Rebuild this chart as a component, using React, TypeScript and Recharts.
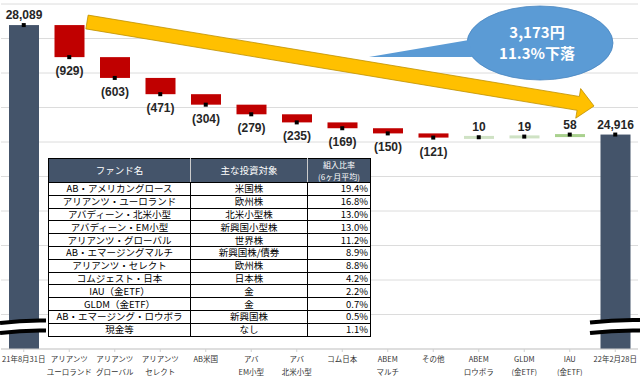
import { ComposedChart, Bar, Line, XAxis, YAxis, CartesianGrid, Cell, LabelList } from 'recharts'

const categories = [
  '21年8月31日',
  'アリアンツ\nユーロランド',
  'アリアンツ\nグローバル',
  'アリアンツ\nセレクト',
  'AB米国',
  'アバ\nEM小型',
  'アバ\n北米小型',
  'コム日本',
  'ABEM\nマルチ',
  'その他',
  'ABEM\nロウボラ',
  'GLDM\n(金ETF)',
  'IAU\n(金ETF)',
  '22年2月28日',
]
const changes = [28089, -929, -603, -471, -304, -279, -235, -169, -150, -121, 10, 19, 58, 24916]
const kinds = ['total', 'down', 'down', 'down', 'down', 'down', 'down', 'down', 'down', 'down', 'up', 'up', 'up', 'total']

const fundNames = [
  'AB・アメリカングロース',
  'アリアンツ・ユーロランド',
  'アバディーン・北米小型',
  'アバディーン・EM小型',
  'アリアンツ・グローバル',
  'AB・エマージングマルチ',
  'アリアンツ・セレクト',
  'コムジェスト・日本',
  'IAU（金ETF）',
  'GLDM（金ETF）',
  'AB・エマージング・ロウボラ',
  '現金等',
]
const targets = ['米国株', '欧州株', '北米小型株', '新興国小型株', '世界株', '新興国株/債券', '欧州株', '日本株', '金', '金', '新興国株', 'なし']
const ratios = ['19.4%', '16.8%', '13.0%', '13.0%', '11.2%', '8.9%', '8.8%', '4.2%', '2.2%', '0.7%', '0.5%', '1.1%']

const Y_DOMAIN = [18700, 28700]
const Y_TICKS = [18700, 19700, 20700, 21700, 22700, 23700, 24700, 25700, 26700, 27700, 28700]

const COLORS: Record<string, string> = { total: '#44546a', down: '#c00000', up: '#a9d18e' }

let run = 0
const data = categories.map((name, i) => {
  const v = changes[i]
  const kind = kinds[i]
  if (kind === 'total') {
    run = v
    return { name, kind, v, range: [Y_DOMAIN[0], v], end: v }
  }
  const start = run
  run += v
  return { name, kind, v, range: [Math.min(start, run), Math.max(start, run)], end: run }
})

const JP = '"Noto Sans CJK JP", "Noto Sans", sans-serif'
const NUM = '"Liberation Sans", Arial, sans-serif'

function XTick(props: any) {
  const { x, y, payload } = props
  const lines = String(payload.value).split('\n')
  return (
    <g transform={`translate(${x},${y})`}>
      {lines.map((l, i) => (
        <text key={i} x={0} y={8 + i * 13} textAnchor="middle" fontSize={7.5} fill="#333" fontFamily={JP}>
          {l}
        </text>
      ))}
    </g>
  )
}

function BarShape(props: any) {
  let { x, y, width, height, fill } = props
  if (height < 3) {
    y = y + height / 2 - 1.5
    height = 3
  }
  return <rect x={x} y={y} width={width} height={height} fill={fill} />
}

function BarLabel(props: any) {
  const { x, y, width, height, index } = props
  const d = data[index]
  if (!d) return null
  const cx = x + width / 2
  if (d.kind === 'down') {
    return (
      <text x={cx} y={y + height + 18} textAnchor="middle" fontSize={12} fontWeight="bold" fill="#262626" fontFamily={NUM}>
        ({Math.abs(d.v)})
      </text>
    )
  }
  return (
    <text x={cx} y={y - 6} textAnchor="middle" fontSize={12} fontWeight="bold" fill="#262626" fontFamily={NUM}>
      {d.v.toLocaleString('en-US')}
    </text>
  )
}

function SquareDot(props: any) {
  const { cx, cy } = props
  if (cx == null || cy == null) return null
  return <rect x={cx - 2} y={cy - 2} width={4} height={4} fill="#000" />
}

// 矢印（左上 → 右下）
function arrowPoints() {
  const S = [87, 22]
  const T = [594, 106]
  const dx = T[0] - S[0]
  const dy = T[1] - S[1]
  const len = Math.hypot(dx, dy)
  const u = [dx / len, dy / len]
  const n = [-u[1], u[0]]
  const B = [T[0] - u[0] * 16, T[1] - u[1] * 16]
  const p = (o: number[], k: number) => `${o[0] + n[0] * k},${o[1] + n[1] * k}`
  return [p(S, -7), p(B, -7), p(B, -15), `${T[0]},${T[1]}`, p(B, 15), p(B, 7), p(S, 7)].join(' ')
}

const cell: React.CSSProperties = { border: '1px solid #000', padding: 0, whiteSpace: 'nowrap', overflow: 'hidden' }

export default function App() {
  return (
    <div style={{ position: 'absolute', left: 0, top: 0, width: 640, height: 376, background: '#fff', overflow: 'hidden' }}>
      <ComposedChart width={640} height={376} data={data} margin={{ top: 4, right: 2, bottom: 0, left: 1 }}>
        <CartesianGrid vertical={false} stroke="#dcdcdc" />
        <XAxis dataKey="name" interval={0} height={27} tick={<XTick />} tickSize={3} stroke="#cfcfcf" />
        <YAxis hide domain={Y_DOMAIN} ticks={Y_TICKS} allowDataOverflow />
        <Bar dataKey="range" barSize={30} shape={(p: any) => <BarShape {...p} />} isAnimationActive={false}>
          {data.map((d) => (
            <Cell key={d.name} fill={d.kind === 'up' && Math.abs(d.v) < 30 ? '#cfe2c4' : COLORS[d.kind]} />
          ))}
          <LabelList dataKey="end" content={(p: any) => <BarLabel {...p} />} />
        </Bar>
        <Line dataKey="end" stroke="none" dot={(p: any) => <SquareDot key={p.index} {...p} />} activeDot={false} isAnimationActive={false} />
      </ComposedChart>

      <svg width={640} height={376} style={{ position: 'absolute', left: 0, top: 0, pointerEvents: 'none' }}>
        <polygon points={arrowPoints()} fill="#ffc000" stroke="#bf9000" strokeWidth={0.8} />
        <ellipse cx={540} cy={43} rx={73} ry={37} fill="#5b9bd5" stroke="#4a86c0" strokeWidth={0.8} />
        <polygon points="369,57 469,40 472,57" fill="#5b9bd5" />
        <text x={537} y={38} textAnchor="middle" fontSize={15} fontWeight="bold" fill="#fff" fontFamily={JP}>
          3,173円
        </text>
        <text x={537} y={59} textAnchor="middle" fontSize={15} fontWeight="bold" fill="#fff" fontFamily={JP}>
          11.3%下落
        </text>
        {/* 軸の省略記号 */}
        <polygon points="0,323 46,320.5 46,330.5 0,333" fill="#fff" />
        <path d="M0,323 Q23,320 46,320.5" stroke="#000" strokeWidth={4} fill="none" />
        <path d="M0,333 Q23,330 46,330.5" stroke="#000" strokeWidth={4} fill="none" />
        <polygon points="590,322.5 640,320 640,330.5 590,333" fill="#fff" />
        <path d="M590,322.5 Q615,319.5 640,320" stroke="#000" strokeWidth={4} fill="none" />
        <path d="M590,333 Q615,330 640,330.5" stroke="#000" strokeWidth={4} fill="none" />
      </svg>

      <table
        style={{
          position: 'absolute',
          left: 48,
          top: 158,
          width: 322,
          borderCollapse: 'collapse',
          tableLayout: 'fixed',
          fontSize: 9.5,
          fontFamily: JP,
          lineHeight: '11px',
          background: '#fff',
          color: '#000',
        }}
      >
        <colgroup>
          <col style={{ width: 142 }} />
          <col style={{ width: 117 }} />
          <col style={{ width: 63 }} />
        </colgroup>
        <thead>
          <tr style={{ height: 24, background: '#44546a', color: '#fff' }}>
            <th style={{ ...cell, fontWeight: 'normal', borderColor: '#000 #ccc #000 #000' }}>ファンド名</th>
            <th style={{ ...cell, fontWeight: 'normal', borderColor: '#000 #ccc #000 #ccc' }}>主な投資対象</th>
            <th style={{ ...cell, fontWeight: 'normal', fontSize: 8, lineHeight: '11.5px' }}>
              <div>組入比率</div>
              <div>(6ヶ月平均)</div>
            </th>
          </tr>
        </thead>
        <tbody>
          {fundNames.map((f, i) => (
            <tr key={f} style={{ height: 12.8 }}>
              <td style={{ ...cell, textAlign: 'center' }}>{f}</td>
              <td style={{ ...cell, textAlign: 'center' }}>{targets[i]}</td>
              <td style={{ ...cell, textAlign: 'right', paddingRight: 2, borderLeftColor: '#999' }}>{ratios[i]}</td>
            </tr>
          ))}
        </tbody>
      </table>
    </div>
  )
}
